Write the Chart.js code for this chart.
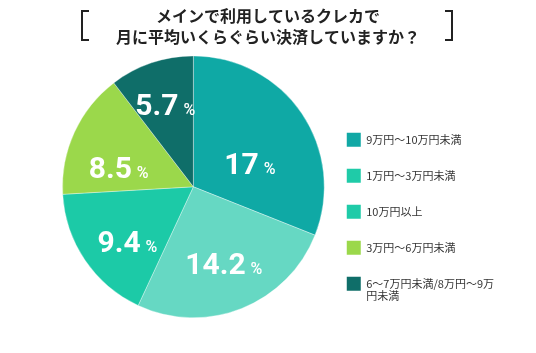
<!DOCTYPE html>
<html>
<head>
<meta charset="utf-8">
<script src="https://cdn.jsdelivr.net/npm/chart.js@4"></script>
<style>
  html, body { margin: 0; padding: 0; background: #ffffff; }
  #wrap { width: 536px; height: 353px; position: relative; }
</style>
</head>
<body>
<div id="wrap"><canvas id="c" width="536" height="353"></canvas></div>
<script>
const titleLines = ['メインで利用しているクレカで', '月に平均いくらぐらい決済していますか？'];
const categories = [
  '9万円〜10万円未満',
  '1万円〜3万円未満',
  '10万円以上',
  '3万円〜6万円未満',
  ['6〜7万円未満/8万円〜9万', '円未満']
];
const values = [17, 14.2, 9.4, 8.5, 5.7];
const sliceColors = ['#0FA9A5', '#66D8C3', '#1CCAA7', '#9BD84B', '#0F6E69'];
const legendColors = ['#11A8A5', '#1FCBA8', '#1FCBA8', '#9BD84B', '#0F6E69'];

const bracketPlugin = {
  id: 'brackets',
  afterLayout(chart) {
    // centre the title across the whole canvas, not only the padded area
    const t = chart.titleBlock;
    if (t) { t.left = 0; t.right = chart.width; t.width = chart.width; }
  },
  afterDraw(chart) {
    const ctx = chart.ctx;
    ctx.save();
    ctx.strokeStyle = '#222';
    ctx.lineWidth = 2;
    ctx.beginPath();
    ctx.moveTo(89, 11); ctx.lineTo(82, 11); ctx.lineTo(82, 40); ctx.lineTo(89, 40);
    ctx.moveTo(445, 11); ctx.lineTo(452, 11); ctx.lineTo(452, 40); ctx.lineTo(445, 40);
    ctx.stroke();
    ctx.restore();
  }
};

const labelPlugin = {
  id: 'sliceLabels',
  afterDatasetsDraw(chart, args, opts) {
    const ctx = chart.ctx;
    const meta = chart.getDatasetMeta(0);
    const place = opts.place || [];
    ctx.save();
    ctx.fillStyle = '#ffffff';
    ctx.textBaseline = 'alphabetic';
    meta.data.forEach((arc, i) => {
      const p = arc.getProps(['x', 'y', 'startAngle', 'endAngle', 'outerRadius'], true);
      const pl = place[i] || { r: 0.62, da: 0 };
      const mid = (p.startAngle + p.endAngle) / 2 + pl.da * Math.PI / 180;
      const r = p.outerRadius * pl.r;
      const cx = p.x + Math.cos(mid) * r;
      const cy = p.y + Math.sin(mid) * r;
      const num = String(values[i]);
      const numFont = "bold 30px Roboto, sans-serif";
      const pctFont = "500 16px Roboto, sans-serif";
      ctx.font = numFont;
      const wn = ctx.measureText(num).width;
      ctx.font = pctFont;
      const wp = ctx.measureText('%').width;
      const gap = 5;
      const total = wn + gap + wp;
      const x0 = cx - total / 2;
      const base = cy + 11;
      ctx.font = numFont;
      ctx.textAlign = 'left';
      ctx.fillText(num, x0, base);
      ctx.font = pctFont;
      ctx.fillText('%', x0 + wn + gap, base);
    });
    ctx.restore();
  }
};

new Chart(document.getElementById('c'), {
  type: 'pie',
  data: {
    labels: categories,
    datasets: [{
      data: values,
      backgroundColor: sliceColors,
      borderColor: 'rgba(255,255,255,0.35)',
      borderWidth: 1
    }]
  },
  options: {
    responsive: false,
    animation: false,
    layout: { padding: { left: 62, right: 32, top: 0, bottom: 30 } },
    plugins: {
      tooltip: { enabled: false },
      sliceLabels: {
        place: [
          { r: 0.47, da: 11 },
          { r: 0.63, da: 0 },
          { r: 0.65, da: -5 },
          { r: 0.59, da: -10 },
          { r: 0.67, da: 0 }
        ]
      },
      title: {
        display: true,
        text: titleLines,
        color: '#222',
        font: { family: "'Noto Sans CJK JP', sans-serif", size: 16, weight: 'bold', lineHeight: 1.3 },
        padding: { top: 6, bottom: 3 }
      },
      legend: {
        position: 'right',
        align: 'end',
        labels: {
          boxWidth: 14,
          boxHeight: 14,
          padding: 22,
          color: '#333',
          font: { family: "'Noto Sans CJK JP', sans-serif", size: 11, lineHeight: 1.1 },
          generateLabels(chart) {
            const items = Chart.overrides.pie.plugins.legend.labels.generateLabels(chart);
            items.forEach((it, i) => {
              it.fillStyle = legendColors[i];
              it.strokeStyle = legendColors[i];
              it.lineWidth = 0;
            });
            return items;
          }
        }
      }
    }
  },
  plugins: [bracketPlugin, labelPlugin]
});
</script>
</body>
</html>
